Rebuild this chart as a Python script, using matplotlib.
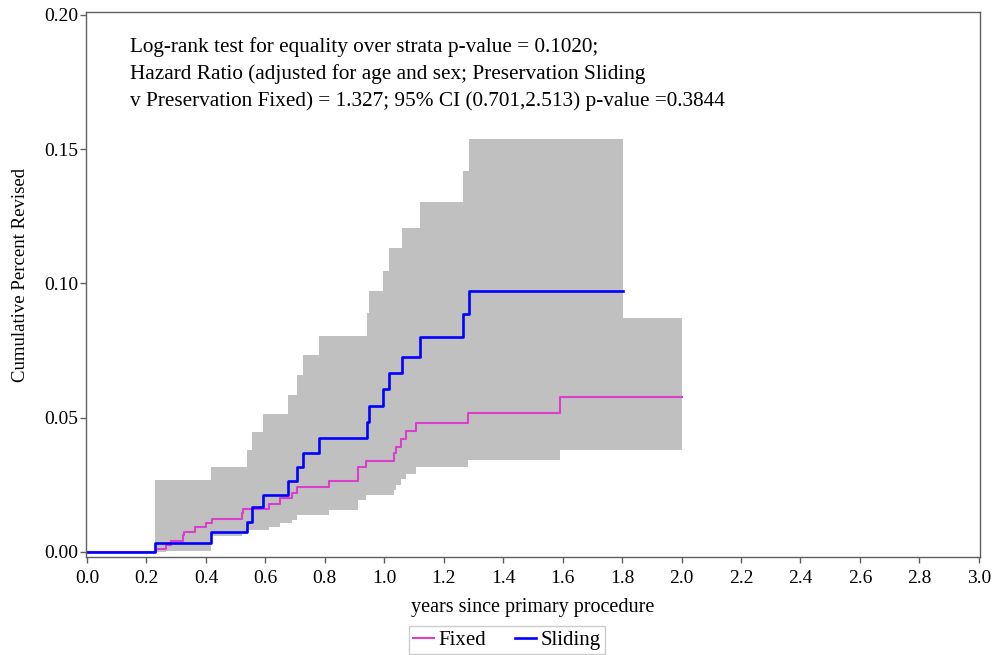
import matplotlib
matplotlib.use("Agg")
import matplotlib.pyplot as plt
import numpy as np

# Sliding group: event times, cumulative estimate and 95% CI
sliding_time = [0, 0.229, 0.417, 0.537, 0.554, 0.591, 0.677, 0.705, 0.728, 0.779,
                0.943, 0.949, 0.996, 1.016, 1.058, 1.119, 1.265, 1.284, 1.802]
sliding_est = [0, 0.0035, 0.0076, 0.0113, 0.0166, 0.0212, 0.0264, 0.0318, 0.0368, 0.0423,
               0.0483, 0.0545, 0.0606, 0.0667, 0.0726, 0.0800, 0.0885, 0.0971, 0.0971]
sliding_hi = [0, 0.0268, 0.0318, 0.0380, 0.0446, 0.0513, 0.0584, 0.0659, 0.0733, 0.0804,
              0.0889, 0.0970, 0.1048, 0.1131, 0.1208, 0.1302, 0.1419, 0.1539, 0.1539]
sliding_lo = [0, 0.0005, 0.0065, 0.0085, 0.0095, 0.0110, 0.0125, 0.0158, 0.0190, 0.0225,
              0.0262, 0.0305, 0.0345, 0.0385, 0.0425, 0.0475, 0.0535, 0.0600, 0.0600]

# Fixed group
fixed_time = [0, 0.232, 0.266, 0.281, 0.322, 0.326, 0.363, 0.399, 0.421, 0.520, 0.526,
              0.613, 0.649, 0.691, 0.707, 0.815, 0.913, 0.937, 1.033, 1.038, 1.055,
              1.073, 1.107, 1.283, 1.591, 2.002]
fixed_est = [0, 0.0012, 0.0025, 0.0040, 0.0063, 0.0073, 0.0091, 0.0107, 0.0124, 0.0144, 0.0161,
             0.0179, 0.0201, 0.0221, 0.0240, 0.0264, 0.0318, 0.0339, 0.0368, 0.0392, 0.0421,
             0.0451, 0.0482, 0.0519, 0.0578, 0.0578]
fixed_lo = [0, 0.0000, 0.0003, 0.0010, 0.0022, 0.0030, 0.0038, 0.0051, 0.0060, 0.0072, 0.0082,
            0.0092, 0.0107, 0.0119, 0.0138, 0.0156, 0.0194, 0.0212, 0.0230, 0.0248, 0.0271,
            0.0291, 0.0316, 0.0343, 0.0380, 0.0380]
fixed_hi = [0, 0.0090, 0.0110, 0.0130, 0.0160, 0.0175, 0.0200, 0.0220, 0.0245, 0.0265, 0.0285,
            0.0310, 0.0335, 0.0360, 0.0385, 0.0415, 0.0480, 0.0505, 0.0545, 0.0575, 0.0610,
            0.0645, 0.0680, 0.0725, 0.0873, 0.0873]

x_ticks = np.arange(0, 3.01, 0.2)
y_ticks = [0.00, 0.05, 0.10, 0.15, 0.20]

notes = ["Log-rank test for equality over strata p-value = 0.1020;",
         "Hazard Ratio (adjusted for age and sex; Preservation Sliding",
         "v Preservation Fixed) = 1.327; 95% CI (0.701,2.513) p-value =0.3844"]

plt.rcParams['font.family'] = ['Liberation Serif', 'DejaVu Serif']

fig = plt.figure(figsize=(9.95, 6.55), dpi=100)
ax = fig.add_axes([0.0864, 0.1496, 0.8985, 0.8321])

gray = '#C0C0C0'
ax.fill_between(fixed_time, fixed_lo, fixed_hi, step='post', color=gray, linewidth=0)
ax.fill_between(sliding_time, sliding_lo, sliding_hi, step='post', color=gray, linewidth=0)

ax.step(fixed_time, fixed_est, where='post', color='#DA3FCB', lw=1.5, label='Fixed')
ax.step(sliding_time, sliding_est, where='post', color='#0000FF', lw=1.9, label='Sliding')

ax.set_xlim(-0.0034, 3.0037)
ax.set_ylim(-0.0019, 0.2011)
ax.set_xticks(x_ticks)
ax.set_xticklabels(['%.1f' % v for v in x_ticks])
ax.set_yticks(y_ticks)
ax.set_yticklabels(['%.2f' % v for v in y_ticks])

for s in ax.spines.values():
    s.set_color('#606060')
    s.set_linewidth(1.0)
ax.tick_params(axis='both', colors='#606060', labelcolor='black', labelsize=14,
               length=4, width=1, direction='out')
ax.tick_params(axis='x', pad=5)
ax.tick_params(axis='y', pad=1.5)

ax.set_xlabel('years since primary procedure', fontsize=14.5, va='center')
ax.xaxis.set_label_coords(0.5, -0.092)
ax.set_ylabel('Cumulative Percent Revised', fontsize=13.5, va='center')
ax.yaxis.set_label_coords(-0.073, 0.517)

for i, line in enumerate(notes):
    ax.text(0.0492, 0.9358 - i * 0.0496, line, transform=ax.transAxes,
            fontsize=15.3, va='center', ha='left')

leg = fig.legend(loc='center', bbox_to_anchor=(507 / 995, 1 - 640 / 655), ncol=2,
                 fontsize=15, frameon=True, fancybox=False, handlelength=1.0,
                 handletextpad=0.2, columnspacing=1.4, borderpad=0.2,
                 borderaxespad=0)
leg.get_frame().set_edgecolor('#C0C0C0')
leg.get_frame().set_linewidth(1.0)

fig.savefig('out.png', dpi=100)
